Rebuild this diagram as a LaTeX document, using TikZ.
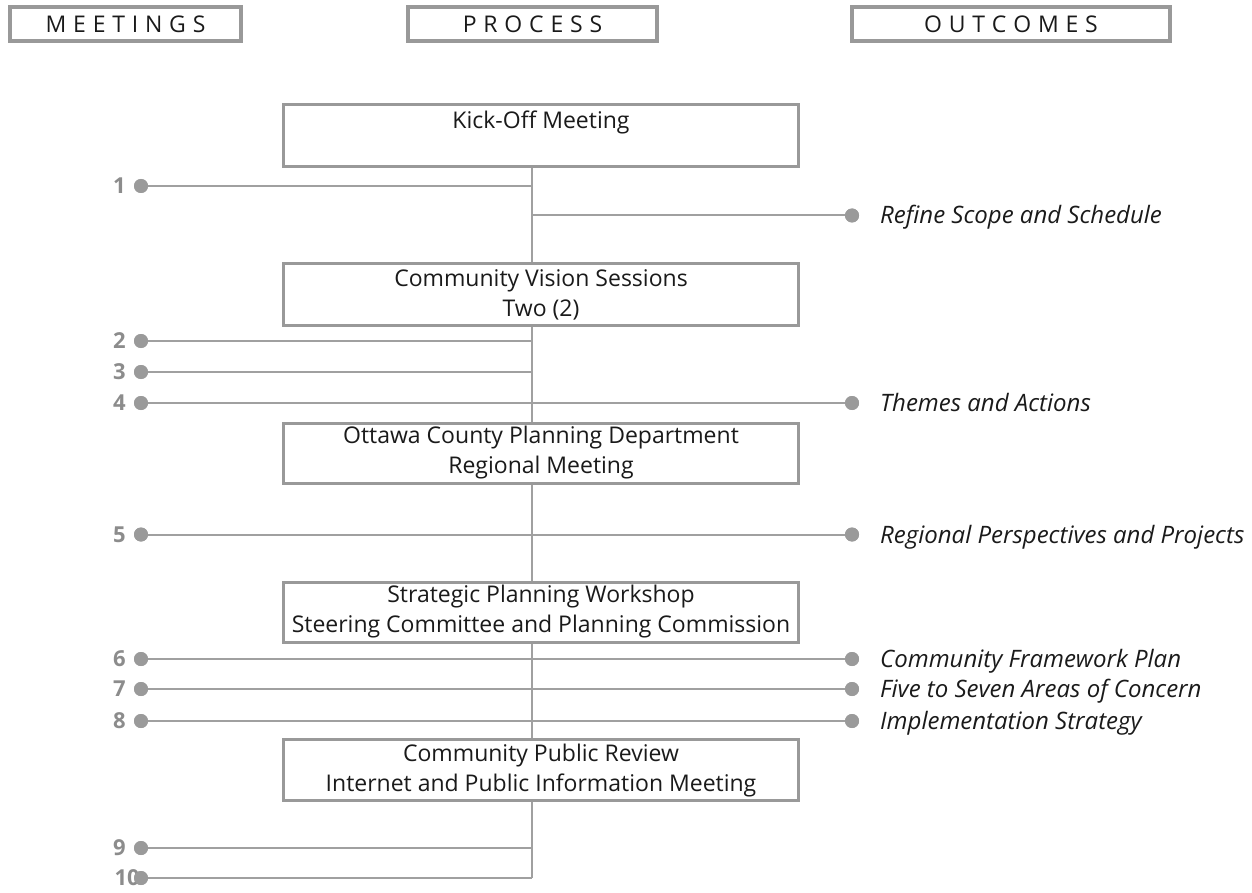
\documentclass[tikz,border=0pt]{standalone}
\usepackage{fontspec}
\setmainfont{Open Sans}
\definecolor{boxgray}{HTML}{999999}
\definecolor{linegray}{HTML}{A0A0A0}
\definecolor{dotgray}{HTML}{9A9A9A}
\definecolor{numgray}{HTML}{8C8C8C}
\definecolor{txt}{HTML}{1A1A1A}
\newcommand\lsp{\hspace{6.8pt}}
\begin{document}
\begin{tikzpicture}[x=1pt,y=-1pt,
  hdr/.style={draw=boxgray, line width=4pt, minimum height=34pt, inner sep=0pt,
    font=\fontsize{23}{28}\selectfont, text=txt},
  pbox/.style={draw=boxgray, line width=3pt, fill=white, minimum width=515pt, inner sep=0pt},
  ptext/.style={align=center, font=\fontsize{23}{30}\selectfont, inner sep=0pt, text=txt},
  dot/.style={circle, fill=dotgray, minimum size=14pt, inner sep=0pt},
  num/.style={font=\fontsize{22}{26}\selectfont\bfseries, text=numgray, inner sep=0pt, anchor=base east},
  outc/.style={font=\fontsize{24}{28}\selectfont\itshape, text=txt, anchor=base west, inner sep=0pt},
  conn/.style={draw=linegray, line width=2pt}
]
\path[use as bounding box] (0,0) rectangle (1252,893);

% headers
\node[hdr, minimum width=231pt] (hm) at (125.5,24) {M\lsp E\lsp E\lsp T\lsp I\lsp N\lsp G\lsp S};
\node[hdr, minimum width=249pt] (hp) at (532.5,24) {P\lsp R\lsp O\lsp C\lsp E\lsp S\lsp S};
\node[hdr, minimum width=318pt] (ho) at (1011,24) {O\lsp U\lsp T\lsp C\lsp O\lsp M\lsp E\lsp S};

% spine
\coordinate (top) at (531.5,164);
\coordinate (S1) at (531.5,186);
\coordinate (SR) at (531.5,215.5);
\coordinate (S9) at (531.5,848);
\coordinate (S10) at (531.5,878);
\draw[conn] (top) -- (S10);

% left dots
\foreach \n/\y in {1/186,2/341,3/372,4/403,5/534.5,6/659,7/689,8/721,9/848,10/878}{
  \node[dot] (L\n) at (141,\y) {};
}
% right dots
\node[dot] (RR) at (852,215.5) {};
\node[dot] (R4) at (852,403) {};
\node[dot] (R5) at (852,534.5) {};
\node[dot] (R6) at (852,659) {};
\node[dot] (R7) at (852,689) {};
\node[dot] (R8) at (852,721) {};

% connectors
\draw[conn] (L1) -- (S1);
\draw[conn] (SR) -- (RR);
\draw[conn] (L2) -- (L2 -| top);
\draw[conn] (L3) -- (L3 -| top);
\draw[conn] (L4) -- (R4);
\draw[conn] (L5) -- (R5);
\draw[conn] (L6) -- (R6);
\draw[conn] (L7) -- (R7);
\draw[conn] (L8) -- (R8);
\draw[conn] (L9) -- (S9);
\draw[conn] (L10) -- (S10);
% number labels
\foreach \n/\y in {1/186,2/341,3/372,4/403,5/534.5,6/659,7/689,8/721,9/848}{
  \node[num] (N\n) at (126,\y+7.5) {\n};
}
\node[num] (N10) at (140,878+7.5) {10};
\foreach \n in {1,...,10}{ \fill[dotgray] (L\n) circle (7pt); }
\foreach \n in {R,4,5,6,7,8}{ \fill[dotgray] (R\n) circle (7pt); }

% process boxes
\node[pbox, minimum height=62pt] (kick) at (541,135.5) {};
\node[ptext, anchor=base] (tkick) at (541,128.3) {Kick-Off Meeting};
\node[pbox, minimum height=62pt] (vision) at (541,294.5) {};
\node[ptext] (tvision) at (541,294.5) {Community Vision Sessions\\Two (2)};
\node[pbox, minimum height=60pt] (ottawa) at (541,453) {};
\node[ptext] (tottawa) at (541,453) {Ottawa County Planning Department\\Regional Meeting};
\node[pbox, minimum height=60pt] (strat) at (541,612) {};
\node[ptext] (tstrat) at (541,612) {Strategic Planning Workshop\\Steering Committee and Planning Commission};
\node[pbox, minimum height=61pt] (review) at (541,770.4) {};
\node[ptext] (treview) at (541,770.4) {Community Public Review\\Internet and Public Information Meeting};

% outcomes
\node[outc] (oR) at (880,215.5+8.5) {Refine Scope and Schedule};
\node[outc] (o4) at (880,403+8.5) {Themes and Actions};
\node[outc] (o5) at (880,534.5+8.5) {Regional Perspectives and Projects};
\node[outc] (o6) at (880,659+8.5) {Community Framework Plan};
\node[outc] (o7) at (880,689+8.5) {Five to Seven Areas of Concern};
\node[outc] (o8) at (880,721+8.5) {Implementation Strategy};
\end{tikzpicture}
\end{document}
